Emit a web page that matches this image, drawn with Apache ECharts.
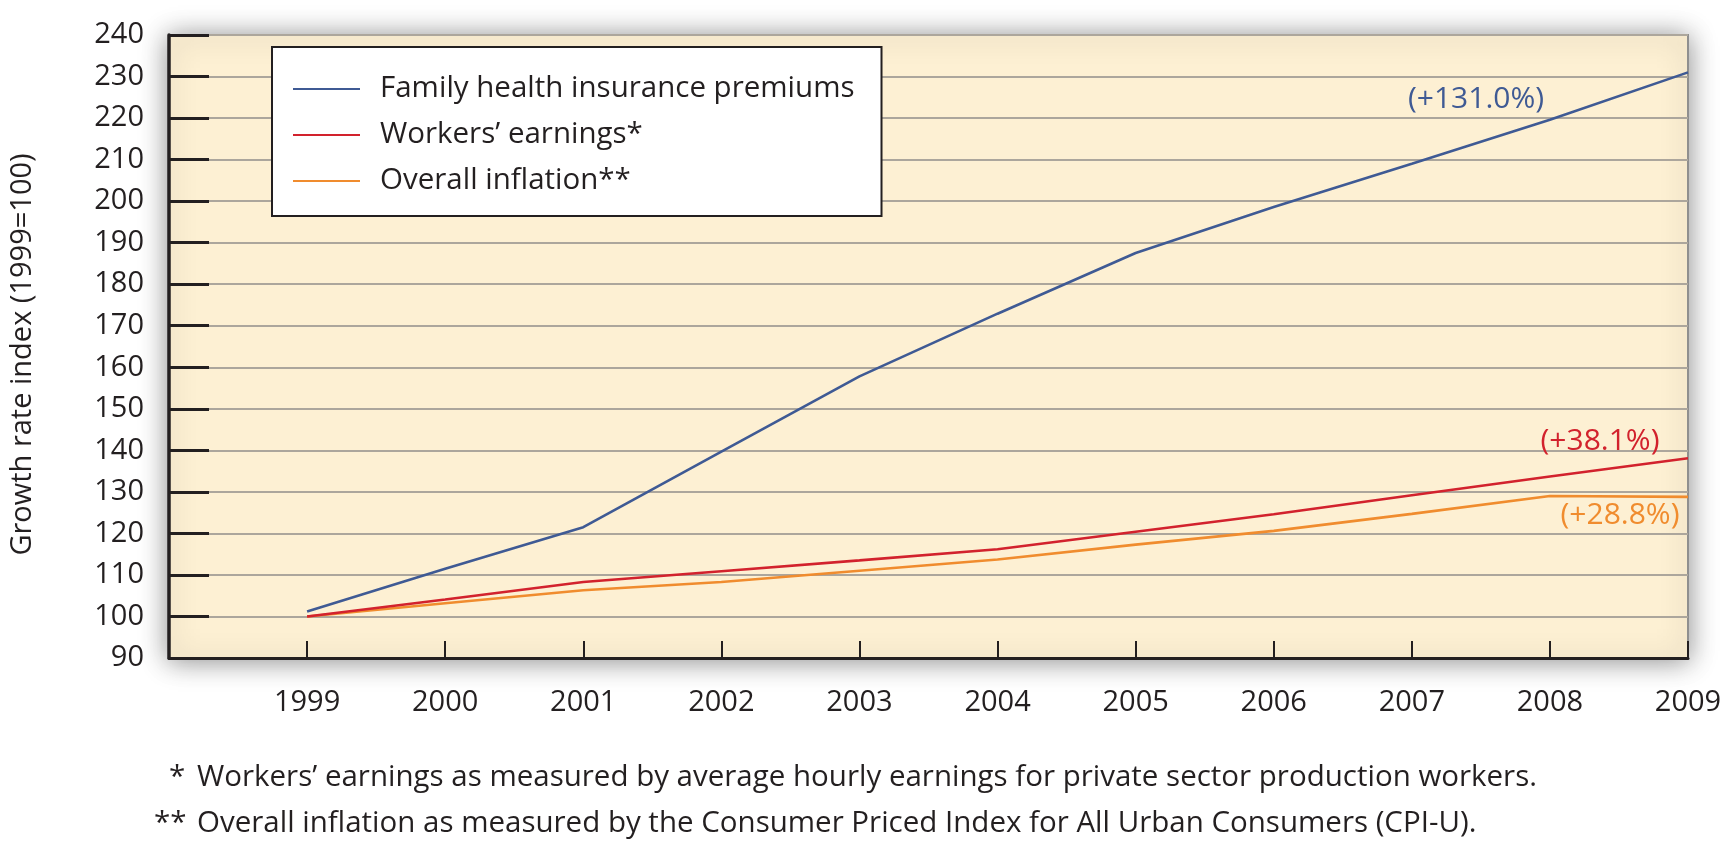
<!DOCTYPE html>
<html>
<head>
<meta charset="utf-8">
<script src="https://cdn.jsdelivr.net/npm/echarts@6/dist/echarts.min.js"></script>
<style>
html,body{margin:0;padding:0;background:#fff;}
#c{width:1727px;height:851px;}
</style>
</head>
<body>
<div id="c"></div>
<script>
const years = [1999, 2000, 2001, 2002, 2003, 2004, 2005, 2006, 2007, 2008, 2009];
const premiums = [101.2, 111.5, 121.5, 139.7, 157.8, 172.9, 187.5, 198.6, 209.0, 219.6, 231.0];
const earnings = [100.0, 104.1, 108.3, 110.9, 113.5, 116.2, 120.4, 124.6, 129.2, 133.7, 138.1];
const inflation = [100.0, 103.2, 106.3, 108.3, 111.0, 113.7, 117.3, 120.6, 124.7, 129.0, 128.8];
const seriesNames = ['Family health insurance premiums', 'Workers\u2019 earnings*', 'Overall inflation**'];
const endLabels = ['(+131.0%)', '(+38.1%)', '(+28.8%)'];
const yAxisName = 'Growth rate index (1999=100)';
const footnotes = [
  ['*', 'Workers\u2019 earnings as measured by average hourly earnings for private sector production workers.'],
  ['**', 'Overall inflation as measured by the Consumer Priced Index for All Urban Consumers (CPI-U).']
];

const FONT = 'Open Sans';
const INK = '#231f20';
const colors = ['#3f5a94', '#d2222d', '#f08c2e'];
const labelOffsets = [[-212, 27], [-88, -17], [-68, 19]];

function pairs(vals) { return years.map((y, i) => [y, vals[i]]); }

const allVals = [premiums, earnings, inflation];
const chart = echarts.init(document.getElementById('c'), null, {renderer: 'canvas'});
chart.setOption({
  animation: false,
  backgroundColor: '#ffffff',
  textStyle: {fontFamily: FONT},
  grid: {
    show: true,
    left: 156, right: 39, top: 35, bottom: 193,
    backgroundColor: '#fdf0d3',
    borderColor: '#8f8f8f',
    borderWidth: 2,
    shadowBlur: 26,
    shadowColor: 'rgba(0,0,0,0.45)',
    shadowOffsetX: 0,
    shadowOffsetY: 2
  },
  legend: {
    orient: 'vertical',
    left: 272, top: 47,
    padding: [24, 27, 17, 21],
    backgroundColor: '#ffffff',
    borderColor: INK,
    borderWidth: 2,
    icon: 'rect',
    itemWidth: 67,
    itemHeight: 2,
    itemGap: 10,
    textStyle: {fontFamily: FONT, fontSize: 29.5, color: INK, lineHeight: 36, padding: [0, 0, 0, 15]},
    data: seriesNames
  },
  xAxis: {
    type: 'value',
    min: 1998, max: 2009, interval: 1,
    axisLine: {show: true, lineStyle: {color: INK, width: 3}},
    axisTick: {show: true, inside: true, length: 17, lineStyle: {color: INK, width: 2}},
    axisLabel: {
      fontFamily: FONT, fontSize: 29, color: INK, margin: 30,
      formatter: v => (v >= 1999 ? String(v) : '')
    },
    splitLine: {show: false}
  },
  yAxis: {
    type: 'value',
    min: 90, max: 240, interval: 10,
    name: yAxisName,
    nameLocation: 'middle',
    nameGap: 132,
    nameRotate: 90,
    nameTextStyle: {fontFamily: FONT, fontSize: 29, color: INK, padding: [0, 16, 0, 0]},
    axisLine: {show: true, lineStyle: {color: INK, width: 3.5}},
    axisTick: {show: true, inside: true, length: 40, lineStyle: {color: INK, width: 3}},
    axisLabel: {fontFamily: FONT, fontSize: 29, color: INK, margin: 25},
    splitLine: {show: true, lineStyle: {color: '#aca69c', width: 2}}
  },
  series: seriesNames.map((name, i) => ({
    name: name,
    type: 'line',
    data: pairs(allVals[i]),
    symbol: 'none',
    lineStyle: {color: colors[i], width: 2.6},
    itemStyle: {color: colors[i]},
    z: 3 + (2 - i),
    markPoint: {
      symbol: 'circle',
      symbolSize: 1,
      itemStyle: {color: 'rgba(0,0,0,0)'},
      silent: true,
      label: {
        show: true, position: 'inside',
        offset: labelOffsets[i],
        fontFamily: FONT, fontSize: 30, color: colors[i],
        formatter: () => endLabels[i]
      },
      data: [{coord: [years[years.length - 1], allVals[i][allVals[i].length - 1]]}]
    }
  })),
  graphic: footnotes.flatMap((f, i) => [
    {type: 'text', left: (i === 0 ? 169 : 154), top: 763 + i * 46,
     style: {text: f[0], font: '29.5px "' + FONT + '"', fill: INK}},
    {type: 'text', left: 197, top: 763 + i * 46,
     style: {text: f[1], font: '29.5px "' + FONT + '"', fill: INK}}
  ])
});
</script>
</body>
</html>
